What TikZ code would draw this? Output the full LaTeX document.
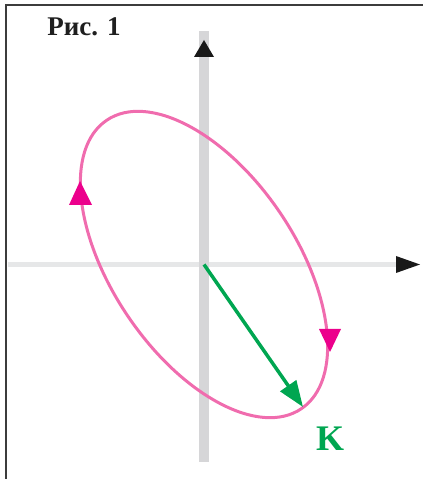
\documentclass[tikz,border=0pt]{standalone}
\usepackage{fontspec}
\setmainfont{Liberation Serif}
\usetikzlibrary{arrows.meta}
\definecolor{pinkline}{HTML}{F06CAE}
\definecolor{magarrow}{HTML}{EC008C}
\definecolor{vecgreen}{HTML}{00A651}
\definecolor{vaxis}{HTML}{D6D6D8}
\definecolor{haxis}{HTML}{E6E7E8}
\definecolor{framecol}{HTML}{3C3C3C}
\tikzset{
  ellipsetip/.style={fill=magarrow},
  axistip/.style={fill=black!90},
}
\begin{document}
\begin{tikzpicture}[x=1pt,y=1pt]
\useasboundingbox (0,0) rectangle (423,479);
\coordinate (O) at (204,214.5);
\coordinate (vtip) at (303,72);
% frame
\draw[framecol, line width=1.5] (6,0) -- (6,474) -- (423,474);
% horizontal axis
\fill[haxis] (8,212) rectangle (396,217);
\fill[axistip] (420,214.5) -- (396,223) -- (396,206) -- cycle;
% vertical axis
\fill[vaxis] (199,17) rectangle (209,448);
\fill[axistip] (204,439) -- (194,422) -- (214,422) -- cycle;
% ellipse
\draw[pinkline, line width=3, rotate around={-56:(O)}] (O) ellipse [x radius=174, y radius=92];
\fill[ellipsetip] (80,298) -- (69,274) -- (92,274) -- cycle;
\fill[ellipsetip] (330,127) -- (319,150) -- (341,150) -- cycle;
% vector
\draw[vecgreen, line width=3.5, -{Triangle[length=26pt, width=19pt]}] (O) -- (vtip);
\node[text=vecgreen, font=\bfseries\fontsize{36}{36}\selectfont, inner sep=0] (klabel) at (330,40) {K};
% title
\node[text=black!88, font=\bfseries\fontsize{27}{30}\selectfont, inner sep=0] (title) at (84,452.5) {Рис. 1};
\end{tikzpicture}
\end{document}
